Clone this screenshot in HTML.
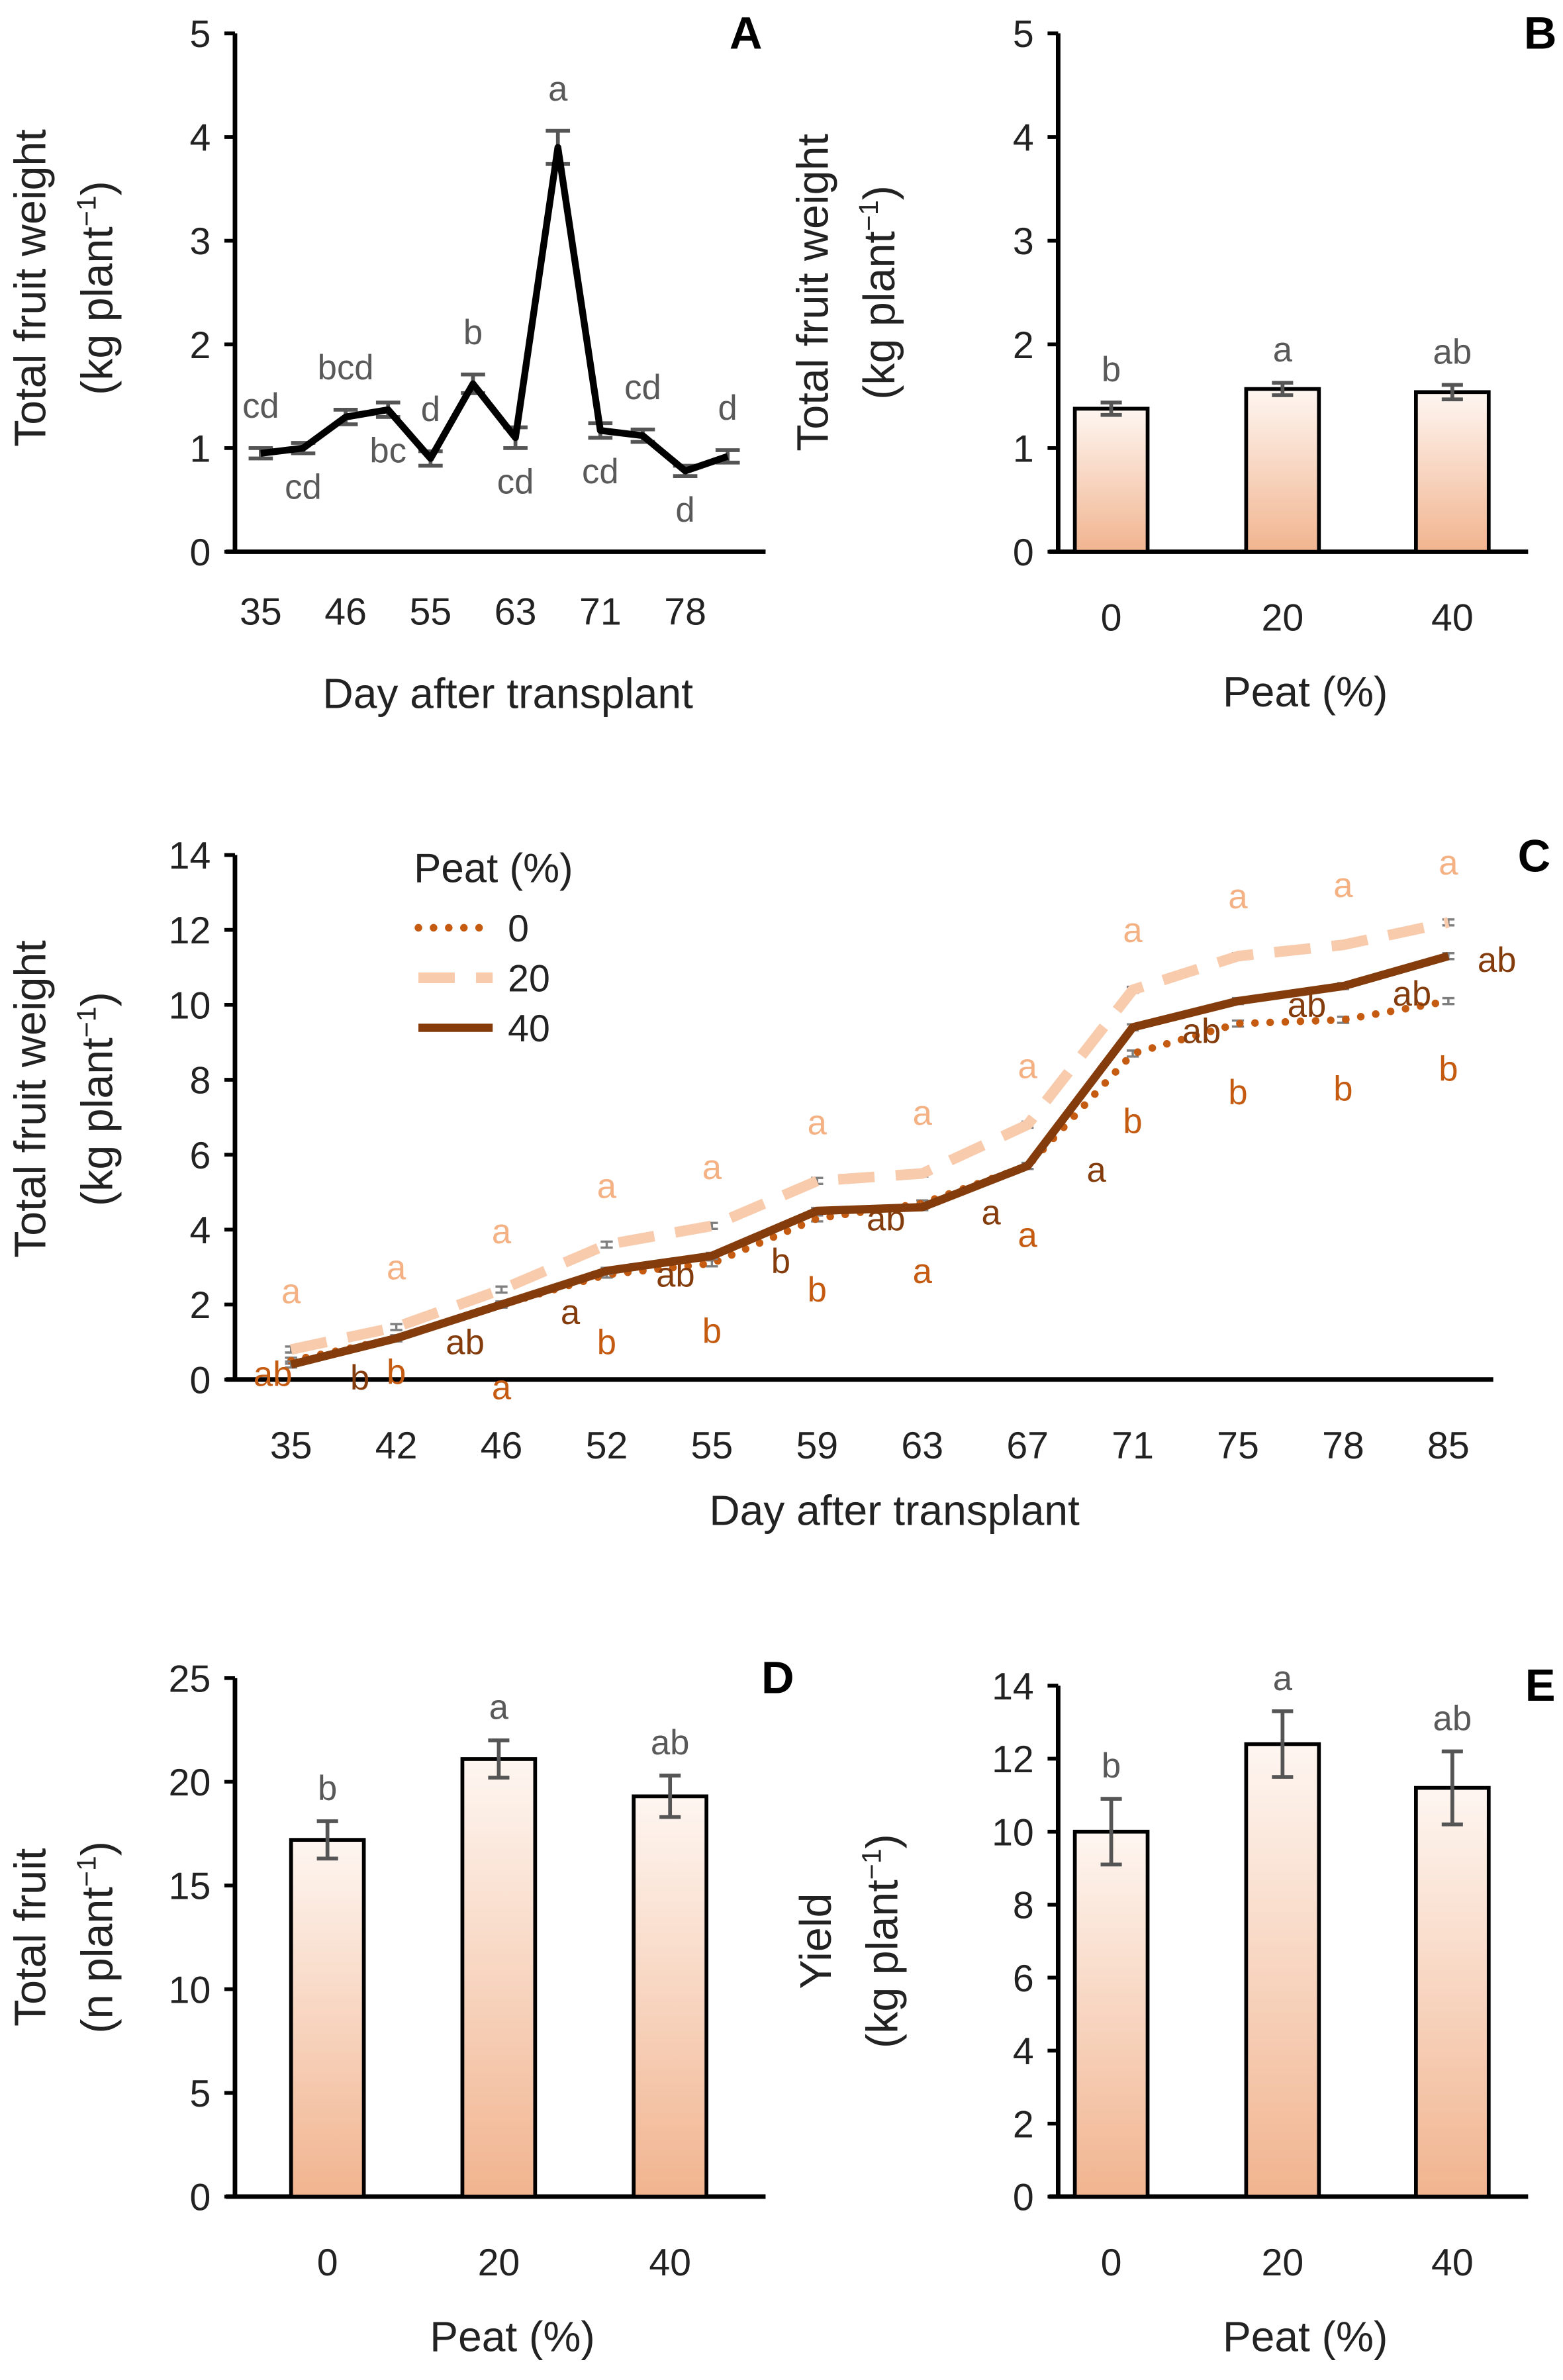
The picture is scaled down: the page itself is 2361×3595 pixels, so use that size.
<!DOCTYPE html>
<html><head><meta charset="utf-8"><style>
html,body{margin:0;padding:0;background:#fff;}
svg{display:block;font-family:"Liberation Sans",sans-serif;}
</style></head><body>
<svg id="fig" width="2361" height="3595" viewBox="0 0 1031 1570" preserveAspectRatio="none" xmlns="http://www.w3.org/2000/svg">
<defs>
<linearGradient id="barGrad" x1="0" y1="0" x2="0" y2="1">
<stop offset="0" stop-color="#fef6f1"/><stop offset="1" stop-color="#f1b48f"/>
</linearGradient>
</defs>
</svg>
<script>
// ---------- DATA ----------
const daysA = ["35","","46","","55","","63","","71","","78",""];
const valsA = [0.95,1.0,1.3,1.37,0.9,1.62,1.1,3.9,1.17,1.12,0.78,0.92];
const errA = [0.05,0.05,0.07,0.07,0.07,0.09,0.1,0.16,0.07,0.06,0.05,0.06];
const lettersA = ["cd","cd","bcd","bc","d","b","cd","a","cd","cd","d","d"];
const sideA = [1,-1,1,-1,1,1,-1,1,-1,1,-1,1];
const ticksA = [0,1,2,3,4,5];

const peatCats = ["0","20","40"];
const valsB = [1.38,1.57,1.54];
const errB = [0.06,0.06,0.07];
const lettersB = ["b","a","ab"];

const daysC = ["35","42","46","52","55","59","63","67","71","75","78","85"];
const valsC0 = [0.5,1.1,2.0,2.8,3.1,4.3,4.7,5.7,8.7,9.5,9.6,10.1];
const valsC20 = [0.8,1.4,2.4,3.6,4.1,5.3,5.5,6.8,10.4,11.3,11.6,12.2];
const valsC40 = [0.4,1.1,2.0,2.9,3.3,4.5,4.6,5.7,9.4,10.1,10.5,11.3];
const ticksC = [0,2,4,6,8,10,12,14];
const let20 = ["a","a","a","a","a","a","a","a","a","a","a","a"];
const let20Y = [2.36,3.0,3.96,5.17,5.67,6.87,7.12,8.37,12.0,12.9,13.2,13.8];
const let0 = ["ab","b","a","b","b","b","a","a","b","b","b","b"];
const let0Y = [0.15,0.2,-0.2,1.0,1.3,2.4,2.9,3.86,6.9,7.67,7.77,8.3];
const let40 = ["","b","ab","a","ab","b","ab","a","a","ab","ab","ab"];
const let40Y = [0,0.05,1.0,1.8,2.8,3.16,4.3,4.46,5.6,9.3,10.0,10.3];
const let40Extra = "ab";
const let40ExtraY = 11.2;

const valsD = [17.2,21.1,19.3];
const errD = [0.9,0.9,1.0];
const lettersD = ["b","a","ab"];
const ticksD = [0,5,10,15,20,25];

const valsE = [10.0,12.4,11.2];
const errE = [0.9,0.9,1.0];
const lettersE = ["b","a","ab"];
const ticksE = [0,2,4,6,8,10,12,14];

// ---------- HELPERS ----------
const NS = "http://www.w3.org/2000/svg";
const svg = document.getElementById("fig");
function mk(tag, attrs, parent, txt){
  const e = document.createElementNS(NS, tag);
  for (const k in attrs) e.setAttribute(k, attrs[k]);
  if (txt !== undefined) e.textContent = txt;
  (parent || svg).appendChild(e);
  return e;
}
function group(name){
  const g = mk("g", {});
  
  
  return g;
}
function axes(g, x0, x1, y0, y1, ticks, yScale){
  const ya = mk("line",{x1:x0,y1:y1,x2:x0,y2:y0,stroke:"#000","stroke-width":3},g);
  
  
  const xa = mk("line",{x1:x0-6,y1:y0,x2:x1,y2:y0,stroke:"#000","stroke-width":3},g);
  
  
  ticks.forEach(t=>{
    const y = yScale(t);
    const tk = mk("line",{x1:x0-7,y1:y,x2:x0,y2:y,stroke:"#000","stroke-width":2.5},g);
    
    
    const tl = mk("text",{x:x0-16,y:y+9,"text-anchor":"end","font-size":25,fill:"#222"},g,String(t));
    
    
  });
}
function ytitle(g, cx, cy, text, name){
  const t = mk("text",{x:0,y:0,transform:`translate(${cx},${cy}) rotate(-90)`,"text-anchor":"middle","font-size":29,fill:"#222"},g);
  
  
  if (text.includes("^")) {
    const parts = text.split("^");
    mk("tspan",{},t,parts[0]);
    mk("tspan",{"font-size":18,dy:-11},t,"−1");
    mk("tspan",{dy:11},t,")");
  } else t.textContent = text;
}
function label(g, x, y, text, size, name, anchor, weight, fill){
  const t = mk("text",{x:x,y:y,"text-anchor":anchor||"middle","font-size":size,fill:fill||"#222","font-weight":weight||"normal"},g,text);
  
  
  return t;
}
function errbar(g, x, yTop, yBot, w, color, sw){
  const p = mk("path",{d:`M${x},${yTop}V${yBot}M${x-w},${yTop}H${x+w}M${x-w},${yBot}H${x+w}`,stroke:color,"stroke-width":sw,fill:"none"},g);
  
  
}
function barPanel(name, x0, x1, y0, y1, ticks, vals, errs, letters, xs, titleX, t1, t2, tl){
  const g = group(name);
  const maxT = ticks[ticks.length-1];
  const ys = v => y0 - v/maxT*(y0-y1);
  axes(g, x0, x1, y0, y1, ticks, ys);
  vals.forEach((v,i)=>{
    const x = xs[i];
    const r = mk("rect",{x:x-24,y:ys(v),width:48,height:y0-ys(v),fill:"url(#barGrad)",stroke:"#000","stroke-width":2.5},g);
    
    
    errbar(g, x, ys(v+errs[i]), ys(v-errs[i]), 7, "#555", 2.5);
    label(g, x, ys(v+errs[i])-14, letters[i], 23, "significance-letter", "middle", "normal", "#595959");
    label(g, x, y0+52, peatCats[i], 25, "x-tick-label");
  });
  ytitle(g, titleX, (y0+y1)/2, t1, "y-axis-title");
  ytitle(g, titleX+44, (y0+y1)/2, t2, "y-axis-title-unit");
  label(g, (x0+x1)/2+8, y0+102, "Peat (%)", 28, "x-axis-title");
  label(g, x1+8, y1+10, tl, 30, "panel-label", "middle", "bold", "#000");
}

// ---------- PANEL A ----------
(function(){
  const g = group("panel-a");
  const x0=155, x1=505, y0=364, y1=22;
  const ys = v => y0 - v/5*(y0-y1);
  const xs = i => 172 + i*28;
  axes(g, x0, x1, y0, y1, ticksA, ys);
  let d = valsA.map((v,i)=>(i?"L":"M")+xs(i)+","+ys(v)).join("");
  valsA.forEach((v,i)=>errbar(g, xs(i), ys(v+errA[i]), ys(v-errA[i]), 8, "#555", 2.5));
  const ln = mk("path",{d:d,fill:"none",stroke:"#000","stroke-width":4.5,"stroke-linejoin":"round"},g);
  
  
  valsA.forEach((v,i)=>{
    const y = sideA[i]>0 ? ys(v+errA[i])-20 : ys(v-errA[i])+30;
    label(g, xs(i), y, lettersA[i], 23, "significance-letter", "middle", "normal", "#595959");
    if (daysA[i]) label(g, xs(i), 412, daysA[i], 25, "x-tick-label");
  });
  ytitle(g, 30, 190, "Total fruit weight", "y-axis-title");
  ytitle(g, 74, 190, "(kg plant^", "y-axis-title-unit");
  label(g, 335, 467, "Day after transplant", 28, "x-axis-title");
  label(g, 492, 32, "A", 30, "panel-label", "middle", "bold", "#000");
})();

// ---------- PANEL B ----------
barPanel("panel-b", 698, 1008, 364, 22, ticksA, valsB, errB, lettersB, [733,846,958], 546, "Total fruit weight", "(kg plant^", "B");

// ---------- PANEL C ----------
(function(){
  const g = group("panel-c");
  const x0=155, x1=985, y0=910, y1=564;
  const ys = v => y0 - v/14*(y0-y1);
  const xs = i => 192 + i*69.4;
  axes(g, x0, x1, y0, y1, ticksC, ys);
  const series = [
    {vals:valsC20, name:"line-peat-20", stroke:"#f8cbad", w:7, dash:"24 14", cap:"butt"},
    {vals:valsC0, name:"line-peat-0", stroke:"#c55a11", w:5, dash:"0 10", cap:"round"},
    {vals:valsC40, name:"line-peat-40", stroke:"#843c0c", w:5.5, dash:"", cap:"butt"}
  ];
  series.forEach(s=>{
    s.vals.forEach((v,i)=>errbar(g, xs(i), ys(v+0.08), ys(v-0.08), 4, "#7f7f7f", 1.5));
    const d = s.vals.map((v,i)=>(i?"L":"M")+xs(i)+","+ys(v)).join("");
    const p = mk("path",{d:d,fill:"none",stroke:s.stroke,"stroke-width":s.w,"stroke-dasharray":s.dash,"stroke-linecap":s.cap,"stroke-linejoin":"round"},g);
    
    
  });
  daysC.forEach((d,i)=>{
    label(g, xs(i), 962, d, 25, "x-tick-label");
    label(g, xs(i), ys(let20Y[i])+8, let20[i], 23, "letter-peat-20", "middle", "normal", "#f4b183");
    const x0l = i===0 ? xs(i)-12 : xs(i);
    label(g, x0l, ys(let0Y[i])+8, let0[i], 23, "letter-peat-0", "middle", "normal", "#c55a11");
    if (let40[i]) label(g, xs(i)-24, ys(let40Y[i])+8, let40[i], 23, "letter-peat-40", "middle", "normal", "#843c0c");
  });
  label(g, xs(11)+32, ys(let40ExtraY)+8, let40Extra, 23, "letter-peat-40", "middle", "normal", "#843c0c");
  ytitle(g, 30, 725, "Total fruit weight", "y-axis-title");
  ytitle(g, 74, 725, "(kg plant^", "y-axis-title-unit");
  label(g, 590, 1006, "Day after transplant", 28, "x-axis-title");
  label(g, 1012, 575, "C", 30, "panel-label", "middle", "bold", "#000");
  // legend
  const lg = group("legend");
  label(lg, 273, 582, "Peat (%)", 27, "legend-title", "start");
  const leg = [["0","#c55a11",5,"0 10","round"],["20","#f8cbad",7,"24 14","butt"],["40","#843c0c",5.5,"","butt"]];
  leg.forEach((l,i)=>{
    const y = 612 + i*33;
    const ln = mk("line",{x1:276,y1:y,x2:325,y2:y,stroke:l[1],"stroke-width":l[2],"stroke-dasharray":l[3],"stroke-linecap":l[4]},lg);
    
    
    label(lg, 335, y+9, l[0], 25, "legend-entry-" + l[0], "start");
  });
})();

// ---------- PANEL D ----------
barPanel("panel-d", 155, 505, 1449, 1107, ticksD, valsD, errD, lettersD, [216,329,442], 30, "Total fruit", "(n plant^", "D");

// ---------- PANEL E ----------
barPanel("panel-e", 698, 1008, 1449, 1112, ticksE, valsE, errE, lettersE, [733,846,958], 548, "Yield", "(kg plant^", "E");
</script>
</body></html>
